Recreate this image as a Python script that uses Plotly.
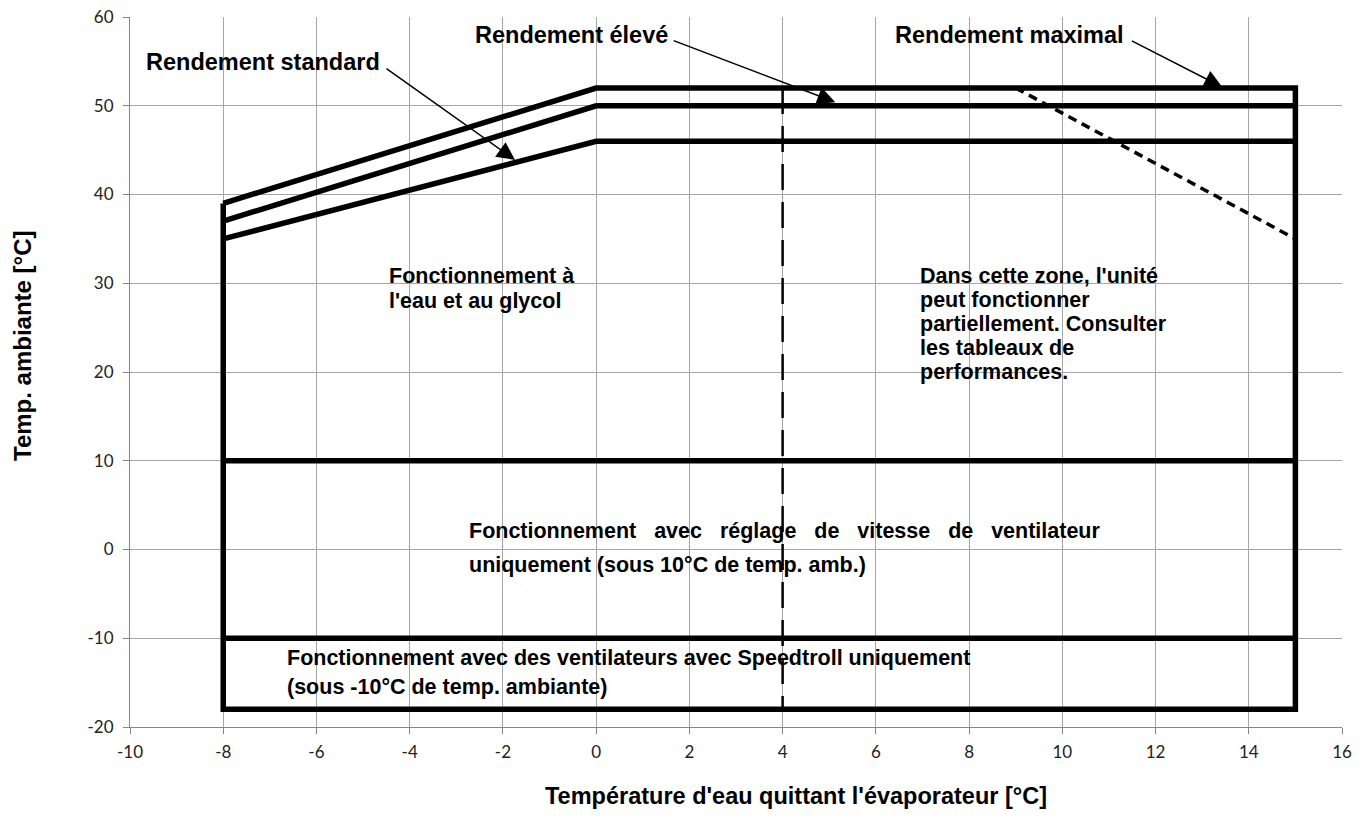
import plotly.graph_objects as go

# ---- data ----
x_knee = [-8, 0, 15]
y_max_eff = [39, 52, 52]      # Rendement maximal
y_high_eff = [37, 50, 50]     # Rendement élevé
y_std_eff = [35, 46, 46]      # Rendement standard
x_left, x_right = -8, 15
y_bottom = -18
y_fan_speed = 10
y_speedtroll = -10
x_partial = 4
diag_x = [9, 15]
diag_y = [52, 35]
x_ticks = list(range(-10, 17, 2))
y_ticks = list(range(-20, 61, 10))
x_ticktext = [str(v) for v in x_ticks]
y_ticktext = [str(v) for v in y_ticks]

BLACK = "#000000"
LW = 5.5
fig = go.Figure()

fig.add_trace(go.Scatter(
    x=[x_left, x_left, x_right, x_right] + x_knee[::-1][1:],
    y=[y_max_eff[0], y_bottom, y_bottom, y_max_eff[2]] + y_max_eff[::-1][1:],
    mode="lines", line=dict(color=BLACK, width=LW), hoverinfo="skip"))
fig.add_trace(go.Scatter(x=x_knee, y=y_high_eff, mode="lines",
                         line=dict(color=BLACK, width=LW), hoverinfo="skip"))
fig.add_trace(go.Scatter(x=x_knee, y=y_std_eff, mode="lines",
                         line=dict(color=BLACK, width=LW), hoverinfo="skip"))
for yy in (y_fan_speed, y_speedtroll):
    fig.add_trace(go.Scatter(x=[x_left, x_right], y=[yy, yy], mode="lines",
                             line=dict(color=BLACK, width=LW), hoverinfo="skip"))
fig.add_trace(go.Scatter(x=[x_partial, x_partial], y=[y_max_eff[2], y_bottom], mode="lines",
                         line=dict(color=BLACK, width=2.5, dash="26px,12px"), hoverinfo="skip"))
fig.add_trace(go.Scatter(x=diag_x, y=diag_y, mode="lines",
                         line=dict(color=BLACK, width=3.5, dash="9px,6px"), hoverinfo="skip"))

FAM = "Liberation Sans, Arial, sans-serif"
TXT = dict(family=FAM, size=21.5, color=BLACK)
TXT_BIG = dict(family=FAM, size=23.5, color=BLACK)

def label(x, y, text, font=TXT):
    fig.add_annotation(x=x, y=y, xref="x", yref="y", text="<b>" + text + "</b>",
                       showarrow=False, xanchor="left", yanchor="middle", font=font)

def arrow(x0, y0, x1, y1):
    fig.add_annotation(x=x1, y=y1, ax=x0, ay=y0, xref="x", yref="y", axref="x", ayref="y",
                       text="", showarrow=True, arrowhead=2, arrowsize=2.4,
                       arrowwidth=1.5, arrowcolor=BLACK, standoff=0)

label(-9.7, 54.9, "Rendement standard", TXT_BIG)
label(-2.65, 58.0, "Rendement élevé", TXT_BIG)
label(6.37, 58.0, "Rendement maximal", TXT_BIG)
arrow(-4.53, 54.3, -1.74, 43.9)
arrow(1.63, 57.4, 5.13, 50.4)
arrow(11.46, 57.4, 13.43, 52.1)

label(-4.48, 30.8, "Fonctionnement à")
label(-4.48, 28.0, "l'eau et au glycol")
zone_lines = ["Dans cette zone, l'unité", "peut fonctionner", "partiellement. Consulter",
              "les tableaux de", "performances."]
for i, t in enumerate(zone_lines):
    label(6.91, 30.8 - i * 2.7, t)
SP = "&nbsp;&nbsp;"
label(-2.77, 2.08, ("Fonctionnement avec réglage de vitesse de ventilateur").replace(" ", SP + " "))
label(-2.77, -1.75, "uniquement (sous 10°C de temp. amb.)")
label(-6.67, -12.2, "Fonctionnement avec des ventilateurs avec Speedtroll uniquement")
label(-6.67, -15.5, "(sous -10°C de temp. ambiante)")

# axis titles
fig.add_annotation(x=(796 - 130) / 1212, y=-(796 - 727) / 710, xref="paper", yref="paper",
                   text="<b>Température d'eau quittant l'évaporateur [°C]</b>", showarrow=False,
                   xanchor="center", yanchor="middle",
                   font=dict(family=FAM, size=23.5, color=BLACK))
fig.add_annotation(x=-(130 - 22) / 1212, y=(727 - 346) / 710, xref="paper", yref="paper",
                   text="<b>Temp. ambiante [°C]</b>", showarrow=False, textangle=-90,
                   xanchor="center", yanchor="middle",
                   font=dict(family=FAM, size=24, color=BLACK))

GRID = "#a6a6a6"
AX = "#868686"
tickfont = dict(family="Lato, Open Sans, sans-serif", size=17, color="#222222")
fig.update_layout(
    width=1370, height=823, autosize=False,
    margin=dict(l=130, r=28, t=17, b=96, autoexpand=False),
    paper_bgcolor="white", plot_bgcolor="white",
    showlegend=False,
    xaxis=dict(range=[-10, 16], tickvals=x_ticks, ticktext=x_ticktext, showgrid=True,
               gridcolor=GRID, gridwidth=1, showline=True, linecolor=AX, linewidth=1,
               ticks="outside", ticklen=6, tickcolor=AX, zeroline=False, tickfont=tickfont,
               ticklabelstandoff=4,
               automargin=False, ticklabeloverflow="allow", fixedrange=True),
    yaxis=dict(range=[-20, 60], tickvals=y_ticks, ticktext=y_ticktext, showgrid=True,
               gridcolor=GRID, gridwidth=1, showline=True, linecolor=AX, linewidth=1,
               ticks="outside", ticklen=6, tickcolor=AX, zeroline=False, tickfont=tickfont,
               ticklabelstandoff=6,
               automargin=False, ticklabeloverflow="allow", fixedrange=True),
)

fig.write_html("out.html", config={"displayModeBar": False},
               post_script="document.body.style.margin='0';document.body.style.overflow='hidden';")
